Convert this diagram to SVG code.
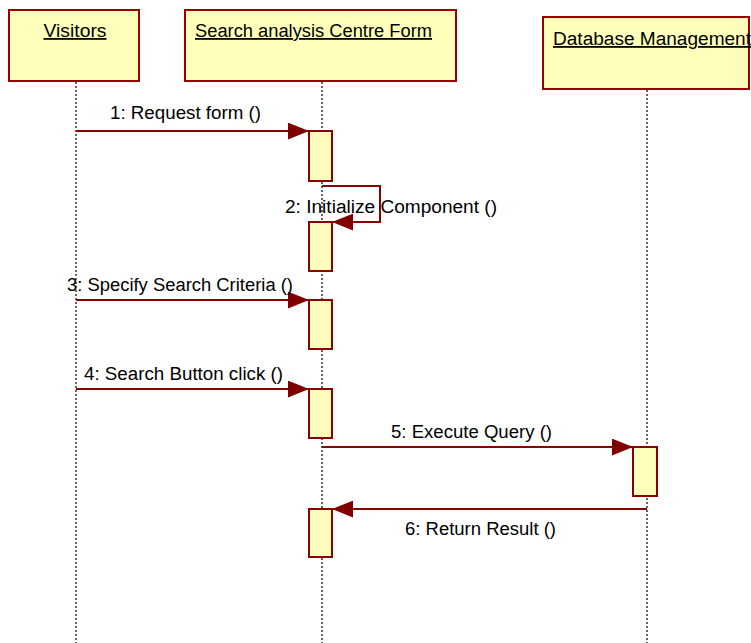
<svg xmlns="http://www.w3.org/2000/svg" width="751" height="643" viewBox="0 0 751 643">
<defs>
<style>
.obj{fill:#ffffbb;stroke:#990000;stroke-width:2}
.act{fill:#ffffbb;stroke:#8b0000;stroke-width:2}
.life{stroke:#000;stroke-width:1.2;stroke-dasharray:2,2;fill:none}
.msg{stroke:#8b0000;stroke-width:2;fill:none;marker-end:url(#arr)}
text{font-family:"Liberation Sans",Arial,sans-serif;font-size:18px;fill:#000}
.u{text-decoration:underline}
</style>
<marker id="arr" viewBox="0 0 20 16" refX="20" refY="8" markerWidth="21" markerHeight="17" markerUnits="userSpaceOnUse" orient="auto">
<path d="M0,0 L20,8 L0,16 Z" fill="#800000"/>
</marker>
</defs>
<rect width="751" height="643" fill="#fff"/>
<g id="lifelines">
<line class="life" x1="76" y1="82" x2="76" y2="643"/>
<line class="life" x1="322" y1="82" x2="322" y2="643"/>
<line class="life" x1="647" y1="90" x2="647" y2="643"/>
</g>
<g id="visitors">
<rect class="obj" x="9" y="10" width="130" height="71"/>
<text class="u" x="75" y="37" text-anchor="middle" textLength="63" lengthAdjust="spacingAndGlyphs">Visitors</text>
</g>
<g id="search-form">
<rect class="obj" x="185" y="10" width="271" height="71"/>
<text class="u" x="195" y="37" textLength="237" lengthAdjust="spacingAndGlyphs">Search analysis Centre Form</text>
</g>
<g id="database">
<rect class="obj" x="543" y="17" width="206" height="72"/>
<text class="u" x="553" y="45" textLength="198" lengthAdjust="spacingAndGlyphs">Database Management</text>
</g>
<g id="activations">
<rect class="act" x="309" y="131" width="23" height="50"/>
<rect class="act" x="309" y="222" width="23" height="49"/>
<rect class="act" x="309" y="300" width="23" height="49"/>
<rect class="act" x="309" y="389" width="23" height="49"/>
<rect class="act" x="633" y="447" width="24" height="49"/>
<rect class="act" x="309" y="509" width="23" height="48"/>
</g>
<g id="connectors">
<line class="msg" x1="76" y1="131" x2="309" y2="131"/>
<polyline class="msg" points="322,186 380,186 380,222 332,222"/>
<line class="msg" x1="76" y1="300" x2="309" y2="300"/>
<line class="msg" x1="76" y1="389" x2="309" y2="389"/>
<line class="msg" x1="322" y1="447" x2="633" y2="447"/>
<line class="msg" x1="647" y1="509" x2="332" y2="509"/>
</g>
<g id="labels">
<text x="110" y="119" textLength="151" lengthAdjust="spacingAndGlyphs">1: Request form ()</text>
<text x="285" y="213" textLength="212" lengthAdjust="spacingAndGlyphs">2: Initialize Component ()</text>
<text x="67" y="291" textLength="226" lengthAdjust="spacingAndGlyphs">3: Specify Search Criteria ()</text>
<text x="84" y="380" textLength="199" lengthAdjust="spacingAndGlyphs">4: Search Button click ()</text>
<text x="391" y="438" textLength="161" lengthAdjust="spacingAndGlyphs">5: Execute Query ()</text>
<text x="405" y="535" textLength="151" lengthAdjust="spacingAndGlyphs">6: Return Result ()</text>
</g>
</svg>
